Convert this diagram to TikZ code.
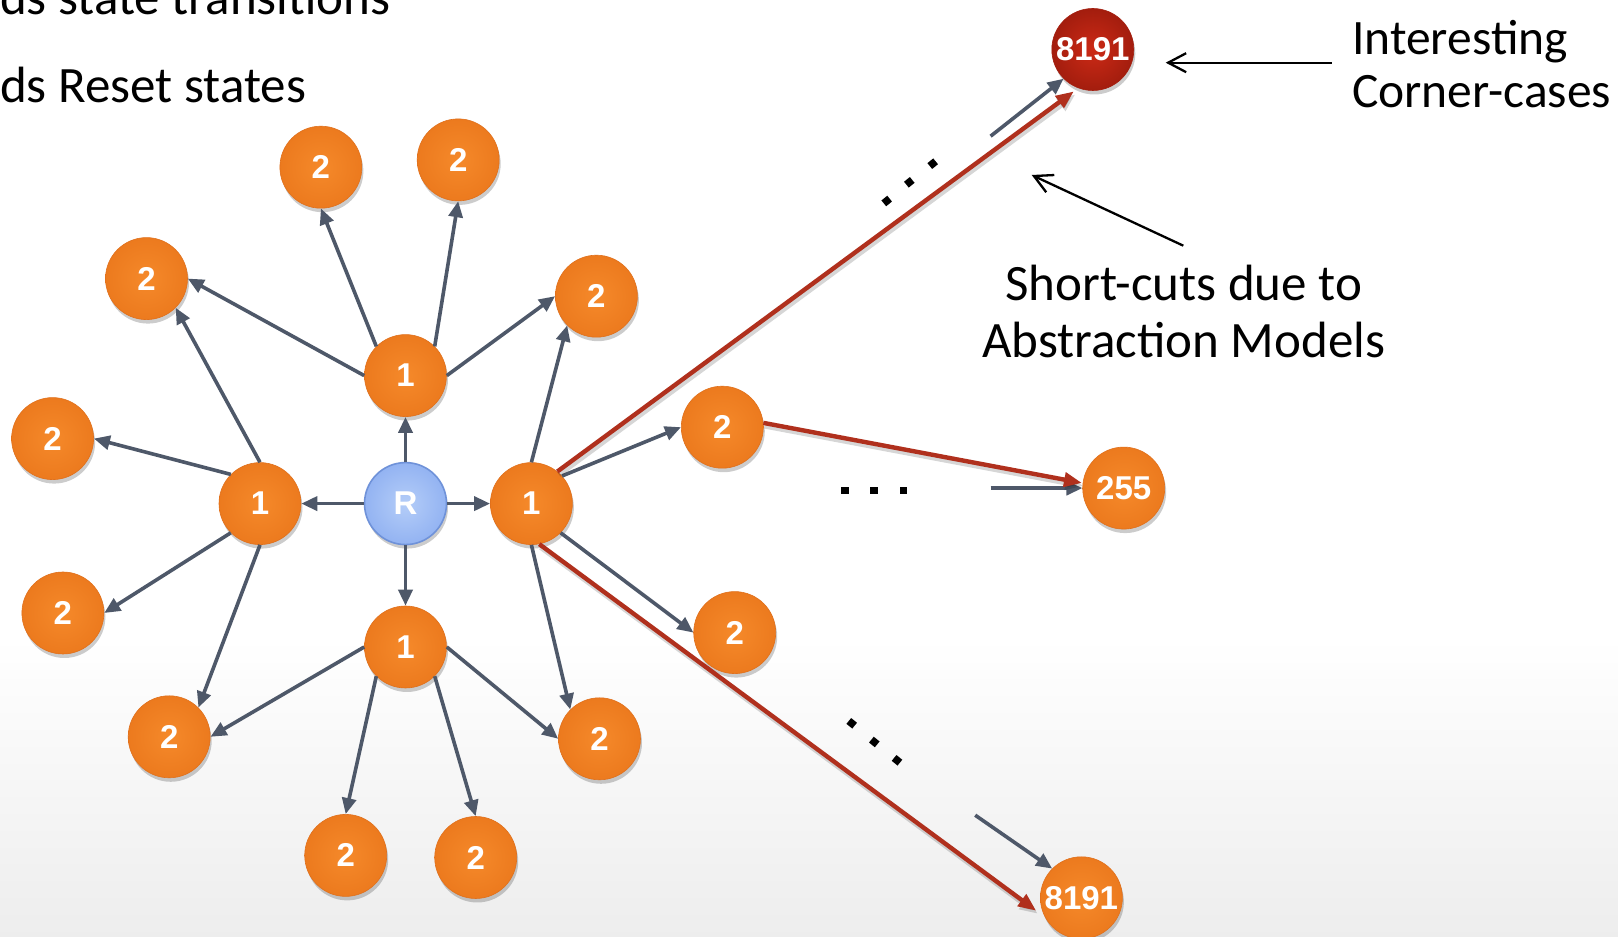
\documentclass[tikz,border=0pt]{standalone}
\usepackage{fontspec}
\setmainfont{Carlito}
\newfontfamily\numfont{Liberation Sans}
\usetikzlibrary{arrows.meta,shadows,calc}

\definecolor{edgegrey}{HTML}{4E5869}
\definecolor{cutred}{HTML}{B0301D}
\definecolor{orangein}{HTML}{F5892A}
\definecolor{orangeout}{HTML}{EC7A1E}
\definecolor{orangeline}{HTML}{E0701C}
\definecolor{bluein}{HTML}{B4CDF8}
\definecolor{blueout}{HTML}{93B3F2}
\definecolor{blueline}{HTML}{6F92D9}
\definecolor{redin}{HTML}{CC2A16}
\definecolor{redout}{HTML}{A31D0E}

\begin{document}
\begin{tikzpicture}[x=1pt,y=1pt,
  nodeshadow/.style={drop shadow={shadow xshift=1.5pt, shadow yshift=-4pt, opacity=0.2, fill=black}},
  state/.style={circle, minimum size=82pt, inner sep=0pt, nodeshadow,
    inner color=orangein, outer color=orangeout, draw=orangeline, line width=0.6pt,
    text=white, font=\numfont\bfseries\fontsize{33}{33}\selectfont},
  reset/.style={state, inner color=bluein, outer color=blueout, draw=blueline, line width=1.6pt},
  corner/.style={state, inner color=redin, outer color=redout, draw=redout},
  trans/.style={draw=edgegrey, line width=3.6pt, -{Triangle[length=16pt,width=14pt]}},
  shortcut/.style={draw=cutred, line width=4.4pt, -{Triangle[length=18pt,width=14pt]},
    preaction={draw=black, opacity=0.16, line width=5.5pt, transform canvas={xshift=1.5pt,yshift=-3pt}}},
  note/.style={draw=black, line width=2.3pt, -{Straight Barb[length=18pt,width=19pt]}},
  dotsq/.style={fill=black, minimum size=7.5pt, inner sep=0pt, rectangle},
  label/.style={inner sep=0pt, font=\fontsize{51}{51}\selectfont},
  sidelabel/.style={inner sep=0pt, font=\fontsize{49.5}{49.5}\selectfont}
]
\useasboundingbox (0,0) rectangle (1618,937);

% background with a soft grey fade at the bottom
\fill[white] (0,0) rectangle (1618,937);
\shade[top color=white, bottom color=black!7] (0,0) rectangle (1618,300);

% reset state and first-level states
\node[reset]  (R)  at (405.5,433.4) {R};
\node[state]  (T1) at (405.5,561.4) {1};
\node[state]  (A1) at (260.0,433.4) {1};
\node[state]  (B1) at (531.4,433.4) {1};
\node[state]  (D1) at (405.5,290.0) {1};

% second-level states
\node[state] (a) at (320.9,769.8) {2};
\node[state] (b) at (458.2,777.1) {2};
\node[state] (c) at (146.5,658.4) {2};
\node[state] (d) at (596.4,640.8) {2};
\node[state] (e) at (52.6,498.4) {2};
\node[state] (f) at (62.9,324.0) {2};
\node[state] (g) at (169.2,200.2) {2};
\node[state] (h) at (345.7,81.6) {2};
\node[state] (i) at (475.7,79.5) {2};
\node[state] (j) at (599.5,198.2) {2};
\node[state] (k) at (734.7,304.4) {2};
\node[state] (l) at (722.3,509.8) {2};

% far states
\node[state]  (s255)  at (1123.7,448.9) {255};
\node[corner] (ctop)  at (1092.8,887.5) {8191};
\node[state]  (cbot)  at (1081.4,39.2)  {8191};

% transitions from R
\draw[trans] (R.90)  -- (T1.270);
\draw[trans] (R.180) -- (A1.0);
\draw[trans] (R.0)   -- (B1.180);
\draw[trans] (R.270) -- (D1.90);

% transitions from the upper 1
\draw[trans] (T1.135) -- (a.270);
\draw[trans] (T1.45)  -- (b.270);
\draw[trans] (T1.180) -- (c.0);
\draw[trans] (T1.0)   -- (d.180);

% transitions from the left 1
\draw[trans] (A1.90)  -- (c.315);
\draw[trans] (A1.135) -- (e.0);
\draw[trans] (A1.225) -- (f.0);
\draw[trans] (A1.270) -- (g.45);

% transitions from the lower 1
\draw[trans] (D1.180) -- (g.0);
\draw[trans] (D1.225) -- (h.90);
\draw[trans] (D1.315) -- (i.90);
\draw[trans] (D1.0)   -- (j.180);

% transitions from the right 1
\draw[trans] (B1.90)  -- (d.225);
\draw[trans] (B1.42)  -- (l.180);
\draw[trans] (B1.315) -- (k.180);
\draw[trans] (B1.270) -- (j.135);

% ordinary paths arriving at the far states
\coordinate (stubtop) at (990.6,800.8);
\coordinate (stubmid) at (990.6,448.9);
\coordinate (stubbot) at (975.2,121.8);
\draw[trans] (stubtop) -- (ctop.225);
\draw[trans] (stubmid) -- (s255.180);
\draw[trans] (stubbot) -- (cbot.135);

% short-cuts
\draw[shortcut] (B1.51) -- ($(ctop.center)+(245.7:46)$);
\draw[shortcut] (l.6)   -- ($(s255.center)+(173:42)$);
\draw[shortcut] (B1.281) -- ($(cbot.center)+(196:47)$);

% ellipses
\node[dotsq, rotate=39]  (t1) at (886.7,736.0) {};
\node[dotsq, rotate=39]  (t2) at (909.3,754.7) {};
\node[dotsq, rotate=39]  (t3) at (932.7,773.3) {};
\node[dotsq]             (m1) at (845.0,446.3) {};
\node[dotsq]             (m2) at (874.0,446.3) {};
\node[dotsq]             (m3) at (903.3,446.3) {};
\node[dotsq, rotate=-39] (u1) at (851.7,213.7) {};
\node[dotsq, rotate=-39] (u2) at (874.3,195.0) {};
\node[dotsq, rotate=-39] (u3) at (897.0,176.7) {};

% annotations
\node[sidelabel, anchor=base west] (ic1) at (1352,882) {Interesting};
\node[sidelabel, anchor=base west] (ic2) at (1352,829) {Corner-cases};
\node[label, anchor=base] (sc1) at (1183.6,636) {Short-cuts due to};
\node[label, anchor=base] (sc2) at (1183.6,579) {Abstraction Models};
\coordinate (ictail) at (1331.7,874.3);
\coordinate (ictip)  at (1165.7,874.3);
\coordinate (sctail) at (1183.3,691.3);
\coordinate (sctip)  at (1031.7,762.0);
\draw[note] (ictail) -- (ictip);
\draw[note] (sctail) -- (sctip);

% heading lines
\node[label, anchor=base west] (hd1) at (0,922) {ds state transitions};
\node[label, anchor=base west] (hd2) at (0,834.7) {ds Reset states};
\end{tikzpicture}
\end{document}
